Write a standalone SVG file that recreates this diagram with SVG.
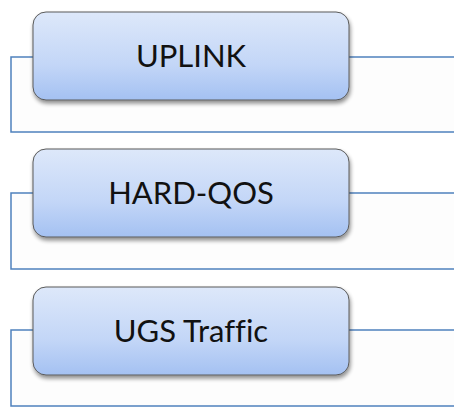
<svg xmlns="http://www.w3.org/2000/svg" width="454" height="407" viewBox="0 0 454 407">
<defs>
<linearGradient id="g" x1="0" y1="0" x2="0" y2="1">
<stop offset="0" stop-color="#dde8fa"/>
<stop offset="0.6" stop-color="#c3d6f7"/>
<stop offset="1" stop-color="#a4c1f2"/>
</linearGradient>
<filter id="sh" x="-10%" y="-10%" width="120%" height="130%">
<feGaussianBlur in="SourceAlpha" stdDeviation="2"/>
<feOffset dx="1" dy="3"/>
<feComponentTransfer><feFuncA type="linear" slope="0.45"/></feComponentTransfer>
<feMerge><feMergeNode/><feMergeNode in="SourceGraphic"/></feMerge>
</filter>
</defs>
<style>
.frame{fill:#fdfdfd;stroke:#4f81bd;stroke-width:1.5}
.box{fill:url(#g);stroke:#5a5a5a;stroke-width:1}
.lbl{font-family:Lato,"Open Sans",sans-serif;font-size:31px;fill:#111;text-anchor:middle;dominant-baseline:central;font-variant-ligatures:none}
</style>
<rect width="454" height="407" fill="#ffffff"/>
<g id="connectors">
<path class="frame" d="M460 57 H11 V132 H460"/>
<path class="frame" d="M460 193 H11 V269 H460"/>
<path class="frame" d="M460 330 H11 V406 H460"/>
</g>
<g id="uplink">
<rect class="box" x="33" y="12" width="316" height="88" rx="13" filter="url(#sh)"/>
<text class="lbl" x="191" y="55">UPLINK</text>
</g>
<g id="hardqos">
<rect class="box" x="33" y="149" width="316" height="88" rx="13" filter="url(#sh)"/>
<text class="lbl" x="191" y="192">HARD-QOS</text>
</g>
<g id="ugs">
<rect class="box" x="33" y="287" width="316" height="88" rx="13" filter="url(#sh)"/>
<text class="lbl" x="191" y="330">UGS Traffic</text>
</g>
</svg>
